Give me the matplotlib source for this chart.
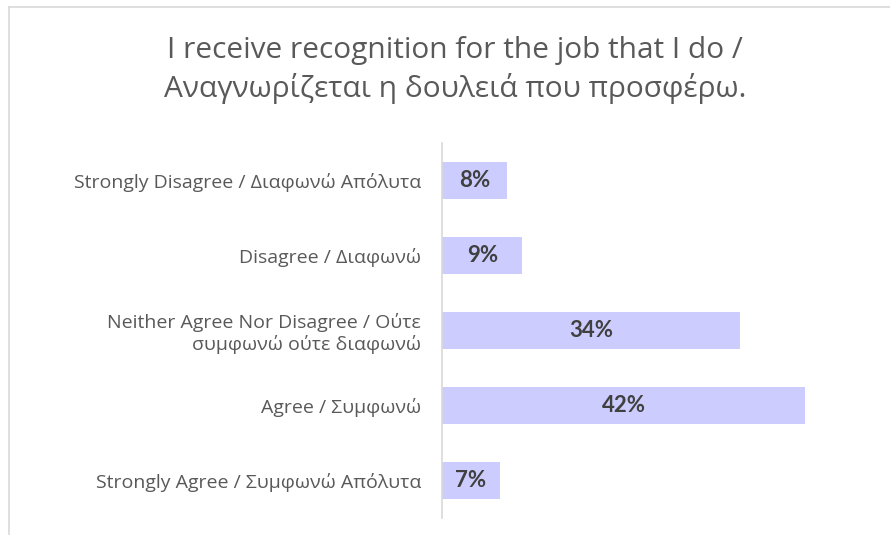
import numpy as np
import matplotlib.pyplot as plt

plt.rcParams['font.family'] = ['Open Sans', 'DejaVu Sans']

categories = [
    'Strongly Disagree / Διαφωνώ Απόλυτα',
    'Disagree / Διαφωνώ',
    'Neither Agree Nor Disagree / Ούτε\nσυμφωνώ ούτε διαφωνώ',
    'Agree / Συμφωνώ',
    'Strongly Agree / Συμφωνώ Απόλυτα',
]
values = [7.5, 9.3, 34.5, 42.0, 6.7]
value_labels = ['8%', '9%', '34%', '42%', '7%']
title = 'I receive recognition for the job that I do /\nΑναγνωρίζεται η δουλειά που προσφέρω.'

fig = plt.figure(figsize=(8.9, 5.35), dpi=100)
ax = fig.add_axes([442 / 890, 1 - 518 / 535, 428 / 890, 375 / 535])

y = np.arange(len(categories))
ax.barh(y, values, height=0.5, color='#ccccff')
for yi, v, lab in zip(y, values, value_labels):
    ax.text(v / 2, yi, lab, ha='center', va='center', fontsize=16,
            fontweight='bold', color='#404040', family=['Lato', 'DejaVu Sans'])

ax.set_xlim(0, 49.5)
ax.set_ylim(len(categories) - 0.5, -0.5)
ax.set_yticks(y)
ax.set_yticklabels(categories, fontsize=14, color='#595959')
ax.tick_params(axis='y', length=0, pad=15)
ax.set_xticks([])
for s in ['top', 'right', 'bottom']:
    ax.spines[s].set_visible(False)
ax.spines['left'].set_color('#d9d9d9')
ax.spines['left'].set_linewidth(1.2)

fig.text(455 / 890, 1 - 70 / 535, title, ha='center', va='center',
         fontsize=21.5, color='#595959', linespacing=1.3)

# chart frame lines (top and left)
fig.add_artist(plt.Line2D([9 / 890, 9 / 890], [0, 1 - 7 / 535], color='#d9d9d9', lw=1.2))
fig.add_artist(plt.Line2D([9 / 890, 1], [1 - 7 / 535, 1 - 7 / 535], color='#d9d9d9', lw=1.2))

fig.savefig('out.png', dpi=100)
